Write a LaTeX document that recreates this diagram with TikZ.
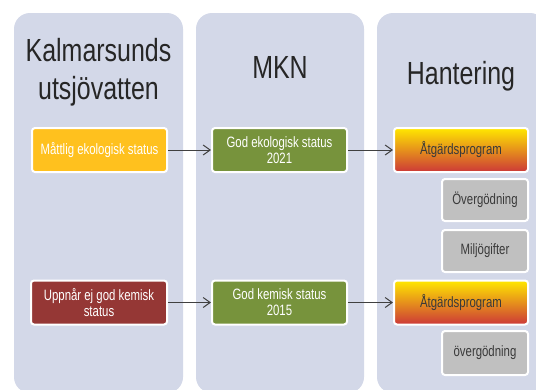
\documentclass[tikz,border=0pt]{standalone}
\usepackage{fontspec}
\setmainfont{Liberation Sans}[FakeStretch=0.8]
\newfontfamily\titlefont{Liberation Sans}[FakeStretch=0.78]
\newfontfamily\boxfont{Liberation Sans}[FakeStretch=0.76]
\usetikzlibrary{arrows.meta}
\definecolor{panelc}{HTML}{D3D8E8}
\definecolor{goldc}{HTML}{FFC11E}
\definecolor{greenc}{HTML}{77933C}
\definecolor{redc}{HTML}{953735}
\definecolor{grayc}{HTML}{C0C0C0}
\definecolor{gtop}{HTML}{FFE800}
\definecolor{gmid}{HTML}{EE8C2A}
\definecolor{gbot}{HTML}{CC3838}
\definecolor{titlec}{HTML}{262626}
\definecolor{darktext}{HTML}{3A3A3A}
\definecolor{arrowc}{HTML}{404040}
\tikzset{
  panelbox/.style={fill=panelc, rounded corners=16pt},
  titletext/.style={text=titlec, align=center, inner sep=0pt, font=\titlefont\fontsize{32}{38}\selectfont},
  box/.style={draw=white, line width=2pt, rounded corners=3pt, minimum height=44pt, inner sep=0pt, align=center, font=\boxfont\fontsize{15}{16}\selectfont},
  goldbox/.style={box, fill=goldc, text=white, minimum width=135pt},
  greenbox/.style={box, fill=greenc, text=white, minimum width=135pt},
  redbox/.style={box, fill=redc, text=white, minimum width=136pt},
  gradbox/.style={box, top color=gtop, middle color=gmid, bottom color=gbot, text=darktext, minimum width=134pt},
  graybox/.style={box, fill=grayc, text=darktext, minimum width=86pt, minimum height=42pt},
  arrowline/.style={draw=arrowc, line width=1pt, -{Straight Barb[length=7pt,width=10pt]}}
}
\begin{document}
\begin{tikzpicture}[x=1pt,y=-1pt]
\useasboundingbox (0,0) rectangle (536,389);
\clip (0,0) rectangle (536,389);
\fill[white] (0,0) rectangle (536,389);
\fill[panelbox] (14,13) rectangle (183,393);
\fill[panelbox] (196,13) rectangle (364,393);
\fill[panelbox] (377,13) rectangle (546,393);

\node[titletext] (t1) at (98.5,72) {Kalmarsunds\\utsjövatten};
\node[titletext] (t2) at (280,67) {MKN};
\node[titletext] (t3) at (461,76) {Hantering};

\node[goldbox] (a1) at (99.5,150) {Måttlig ekologisk status};
\node[greenbox] (b1) at (279.5,150) {God ekologisk status\\2021};
\node[gradbox] (c1) at (461,150) {Åtgärdsprogram};
\node[graybox] (d1) at (485,200) {Övergödning};
\node[graybox] (e1) at (485,251) {Miljögifter};

\node[redbox] (a2) at (99,302.5) {Uppnår ej god kemisk\\status};
\node[greenbox] (b2) at (279.5,302.5) {God kemisk status\\2015};
\node[gradbox] (c2) at (461,302.5) {Åtgärdsprogram};
\node[graybox, minimum height=44pt] (d2) at (485,353) {övergödning};

\draw[arrowline] (a1) -- (b1);
\draw[arrowline] (b1) -- (c1);
\draw[arrowline] (a2) -- (b2);
\draw[arrowline] (b2) -- (c2);
\end{tikzpicture}
\end{document}
